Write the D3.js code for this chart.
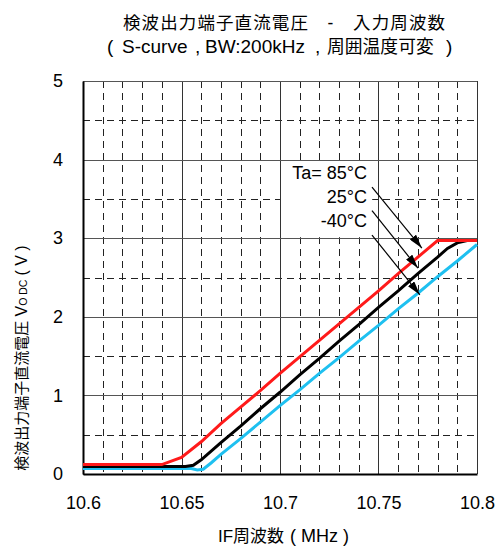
<!DOCTYPE html>
<html>
<head>
<meta charset="utf-8">
<script src="https://cdn.jsdelivr.net/npm/d3@7"></script>
<style>
  body { margin: 0; background: #fff; }
  text { font-family: "Liberation Sans", Arial, "Noto Sans CJK JP", sans-serif; fill: #000; }
</style>
</head>
<body>
<div id="viz"></div>
<script>
// frequency (MHz) / output voltage (V)
var freq_85 = [10.6, 10.64, 10.65, 10.66, 10.67, 10.68, 10.69, 10.70, 10.71, 10.72, 10.73, 10.74, 10.75, 10.76, 10.77, 10.78, 10.8];
var volt_85 = [0.12, 0.12, 0.21, 0.41, 0.64, 0.85, 1.06, 1.28, 1.49, 1.70, 1.91, 2.12, 2.33, 2.55, 2.76, 2.97, 2.97];

var freq_25 = [10.6, 10.652, 10.656, 10.66, 10.67, 10.68, 10.69, 10.70, 10.71, 10.72, 10.73, 10.74, 10.75, 10.76, 10.77, 10.78, 10.785, 10.79, 10.795, 10.8];
var volt_25 = [0.095, 0.095, 0.11, 0.18, 0.40, 0.61, 0.83, 1.04, 1.26, 1.47, 1.69, 1.90, 2.12, 2.33, 2.55, 2.76, 2.87, 2.94, 2.97, 2.97];

var freq_m40 = [10.6, 10.655, 10.658, 10.661, 10.665, 10.67, 10.68, 10.69, 10.70, 10.71, 10.72, 10.73, 10.74, 10.75, 10.76, 10.77, 10.78, 10.79, 10.8];
var volt_m40 = [0.07, 0.07, 0.05, 0.06, 0.14, 0.25, 0.45, 0.66, 0.87, 1.07, 1.28, 1.48, 1.69, 1.89, 2.10, 2.30, 2.51, 2.71, 2.92];

var x_ticks = [10.6, 10.65, 10.7, 10.75, 10.8];
var y_ticks = [0, 1, 2, 3, 4, 5];
var temp_labels = ["Ta= 85°C", "25°C", "-40°C"];
// arrow start / end in data units
var arrow_from = [[10.7467, 3.65], [10.7467, 3.35], [10.7467, 3.04]];
var arrow_to = [[10.772, 2.875], [10.770, 2.62], [10.771, 2.28]];

var width = 497, height = 547;
var left = 83, right = 477, top_y = 81, bottom = 474;
var latin = "Liberation Sans, Arial, sans-serif";
var cjk = "Noto Sans CJK JP, sans-serif";

var svg = d3.select("#viz").append("svg")
  .attr("width", width)
  .attr("height", height);

var x = d3.scaleLinear().domain([10.6, 10.8]).range([left, right]);
var y = d3.scaleLinear().domain([0, 5]).range([bottom, top_y]);

// minor dashed grid
var minor_x = d3.range(10.61, 10.8, 0.01).filter(function(d) {
  return Math.abs(Math.round(d * 20) - d * 20) > 0.01;
});
var minor_y = d3.range(0.5, 5, 1);

var grid = svg.append("g");
grid.selectAll(".vminor").data(minor_x).enter().append("line")
  .attr("x1", function(d) { return Math.round(x(d)) + 0.5; })
  .attr("x2", function(d) { return Math.round(x(d)) + 0.5; })
  .attr("y1", top_y).attr("y2", bottom)
  .attr("stroke", "#222").attr("stroke-width", 1)
  .attr("stroke-dasharray", "7,5");
grid.selectAll(".hminor").data(minor_y).enter().append("line")
  .attr("y1", function(d) { return Math.round(y(d)) + 0.5; })
  .attr("y2", function(d) { return Math.round(y(d)) + 0.5; })
  .attr("x1", left).attr("x2", right)
  .attr("stroke", "#222").attr("stroke-width", 1)
  .attr("stroke-dasharray", "7,5");

// major solid grid
grid.selectAll(".vmajor").data(x_ticks).enter().append("line")
  .attr("x1", function(d) { return Math.round(x(d)) + 0.5; })
  .attr("x2", function(d) { return Math.round(x(d)) + 0.5; })
  .attr("y1", top_y).attr("y2", bottom)
  .attr("stroke", "#333").attr("stroke-width", 1);
grid.selectAll(".hmajor").data(y_ticks).enter().append("line")
  .attr("y1", function(d) { return Math.round(y(d)) + 0.5; })
  .attr("y2", function(d) { return Math.round(y(d)) + 0.5; })
  .attr("x1", left).attr("x2", right)
  .attr("stroke", "#555").attr("stroke-width", 1);

// white box behind temperature labels
svg.append("rect")
  .attr("x", x(10.7) + 1).attr("y", y(4) + 2)
  .attr("width", x(10.7468) - x(10.7) - 1)
  .attr("height", y(3) - y(4) - 3)
  .attr("fill", "#fff");

// axes
svg.append("g")
  .attr("transform", "translate(0," + bottom + ")")
  .call(d3.axisBottom(x).tickValues(x_ticks).tickSize(0).tickPadding(22)
    .tickFormat(function(d) { return String(+d.toFixed(2)); }))
  .call(function(g) {
    g.select(".domain").attr("stroke", "#000").attr("stroke-width", 2);
    g.selectAll("text").attr("font-size", 18).attr("font-family", latin);
  });
svg.append("g")
  .attr("transform", "translate(" + left + ",0)")
  .call(d3.axisLeft(y).tickValues(y_ticks).tickSize(0).tickPadding(20)
    .tickFormat(d3.format("d")))
  .call(function(g) {
    g.select(".domain").attr("stroke", "#000").attr("stroke-width", 2);
    g.selectAll("text").attr("font-size", 18).attr("font-family", latin);
  });

// curves
var line = d3.line()
  .x(function(d) { return x(d[0]); })
  .y(function(d) { return y(d[1]); });

function pairs(f, v) { return f.map(function(d, i) { return [d, v[i]]; }); }

svg.append("path").attr("d", line(pairs(freq_m40, volt_m40)))
  .attr("fill", "none").attr("stroke", "#1ec0f0").attr("stroke-width", 3);
svg.append("path").attr("d", line(pairs(freq_25, volt_25)))
  .attr("fill", "none").attr("stroke", "#000").attr("stroke-width", 3);
svg.append("path").attr("d", line(pairs(freq_85, volt_85)))
  .attr("fill", "none").attr("stroke", "#ff1a1a").attr("stroke-width", 3);

// arrows
svg.append("defs").append("marker")
  .attr("id", "head")
  .attr("viewBox", "0 0 14 8")
  .attr("refX", 14).attr("refY", 4)
  .attr("markerWidth", 14).attr("markerHeight", 8)
  .attr("markerUnits", "userSpaceOnUse")
  .attr("orient", "auto")
  .append("path").attr("d", "M0,0 L14,4 L0,8 z").attr("fill", "#000");

svg.selectAll(".arrow").data(arrow_from).enter().append("line")
  .attr("x1", function(d) { return x(d[0]); })
  .attr("y1", function(d) { return y(d[1]); })
  .attr("x2", function(d, i) { return x(arrow_to[i][0]); })
  .attr("y2", function(d, i) { return y(arrow_to[i][1]); })
  .attr("stroke", "#000").attr("stroke-width", 1.2)
  .attr("marker-end", "url(#head)");

svg.selectAll(".temp").data(temp_labels).enter().append("text")
  .attr("x", 367)
  .attr("y", function(d, i) { return 179 + i * 24; })
  .attr("text-anchor", "end")
  .attr("font-size", 18)
  .attr("font-family", latin)
  .text(function(d) { return d; });

// titles
svg.append("text")
  .attr("x", 284).attr("y", 29)
  .attr("text-anchor", "middle")
  .attr("font-size", 17.5)
  .attr("font-family", cjk)
  .attr("textLength", 322).attr("lengthAdjust", "spacing")
  .text("検波出力端子直流電圧　-　入力周波数");

var sub = svg.append("text").attr("y", 53).attr("font-size", 19).attr("font-family", latin);
sub.append("tspan").attr("x", 107).text("(");
sub.append("tspan").attr("x", 122).text("S-curve");
sub.append("tspan").attr("x", 195).text(",");
sub.append("tspan").attr("x", 205).text("BW:200kHz");
sub.append("tspan").attr("x", 315).text(",");
sub.append("tspan").attr("x", 327).attr("font-family", cjk).attr("font-size", 17.8)
  .text("周囲温度可変");
sub.append("tspan").attr("x", 446).text(")");

var xlab = svg.append("text").attr("y", 542).attr("font-size", 17);
xlab.append("tspan").attr("x", 218).text("IF");
xlab.append("tspan").attr("font-family", cjk).text("周波数");
xlab.append("tspan").attr("font-family", latin).attr("font-size", 18).attr("dx", 6).text("( MHz )");

var ylab = svg.append("text")
  .attr("transform", "translate(27,358) rotate(-90)")
  .attr("text-anchor", "middle")
  .attr("font-size", 15)
  .attr("font-family", cjk);
ylab.append("tspan").text("検波出力端子直流電圧 ");
ylab.append("tspan").attr("font-family", latin).attr("font-size", 16).text("V");
ylab.append("tspan").attr("font-family", latin).attr("font-size", 10.5).text("O DC");
ylab.append("tspan").attr("font-family", latin).attr("font-size", 16).attr("dx", 4).text("( V )");
</script>
</body>
</html>
